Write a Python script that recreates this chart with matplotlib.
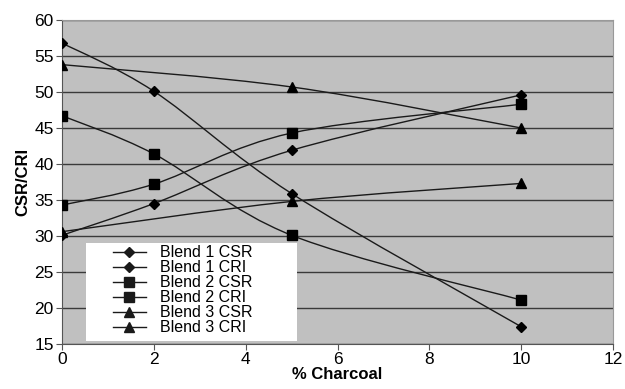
import matplotlib.pyplot as plt
from matplotlib.path import Path
from matplotlib.patches import PathPatch, Rectangle
from matplotlib.lines import Line2D

plt.rcParams['font.family'] = ['Liberation Sans', 'DejaVu Sans']

# data
x4 = [0, 2, 5, 10]
x3 = [0, 5, 10]
b1_csr = [56.8, 50.1, 35.9, 17.4]
b1_cri = [30.1, 34.5, 41.9, 49.6]
b2_csr = [46.7, 41.4, 30.1, 21.1]
b2_cri = [34.3, 37.2, 44.3, 48.3]
b3_csr = [53.8, 50.7, 45.0]
b3_cri = [30.6, 34.8, 37.3]

series = [
    ("Blend 1 CSR", x4, b1_csr, "D", 5.5),
    ("Blend 1 CRI", x4, b1_cri, "D", 5.5),
    ("Blend 2 CSR", x4, b2_csr, "s", 7.5),
    ("Blend 2 CRI", x4, b2_cri, "s", 7.5),
    ("Blend 3 CSR", x3, b3_csr, "^", 7),
    ("Blend 3 CRI", x3, b3_cri, "^", 7),
]


def smooth_path(xs, ys):
    # excel-style smoothed line: cubic bezier segments through the points
    pts = list(zip(xs, ys))
    verts = [pts[0]]
    codes = [Path.MOVETO]
    n = len(pts)
    for i in range(n - 1):
        p0 = pts[i - 1] if i > 0 else pts[i]
        p1 = pts[i]
        p2 = pts[i + 1]
        p3 = pts[i + 2] if i + 2 < n else pts[i + 1]
        c1 = (p1[0] + (p2[0] - p0[0]) / 6, p1[1] + (p2[1] - p0[1]) / 6)
        c2 = (p2[0] - (p3[0] - p1[0]) / 6, p2[1] - (p3[1] - p1[1]) / 6)
        verts += [c1, c2, p2]
        codes += [Path.CURVE4] * 3
    return Path(verts, codes)


fig = plt.figure(figsize=(6.25, 3.89), dpi=100)
ax = fig.add_axes([0.0992, 0.1157, 0.8816, 0.8329])
ax.set_facecolor('#c0c0c0')

handles = []
for name, xs, ys, mk, ms in series:
    ax.add_patch(PathPatch(smooth_path(xs, ys), facecolor='none',
                           edgecolor='#1a1a1a', lw=1.0, zorder=3))
    ax.plot(xs, ys, linestyle='none', marker=mk, markersize=ms,
            color='black', zorder=4)
    handles.append(Line2D([], [], color='#1a1a1a', lw=1.0, marker=mk,
                          markersize=ms, label=name))

ax.set_xlim(0, 12)
ax.set_ylim(15, 60)
ax.set_xticks(range(0, 13, 2))
ax.set_yticks(range(15, 61, 5))
ax.yaxis.grid(True, color='#3a3a3a', lw=1.0)
ax.set_axisbelow(True)
ax.tick_params(labelsize=12.5, length=4, color='#555555', direction='out',
               pad=2)

for s in ['top', 'right']:
    ax.spines[s].set_color('#999999')
for s in ['left', 'bottom']:
    ax.spines[s].set_color('#555555')

ax.set_xlabel('% Charcoal', fontsize=12, fontweight='bold', labelpad=0)
ax.set_ylabel('CSR/CRI', fontsize=12, fontweight='bold', labelpad=3)

# white legend box, wider than its contents like the original
ax.add_patch(Rectangle((0.044, 0.009), 0.383, 0.303, transform=ax.transAxes,
                       facecolor='white', edgecolor='none', zorder=4.5))
leg = ax.legend(handles=handles, loc='upper left',
                bbox_to_anchor=(0.092, 0.305), frameon=False,
                fontsize=11.5, borderpad=0, labelspacing=0.0,
                handlelength=2.1, handletextpad=0.85, borderaxespad=0)
leg.set_zorder(5)

fig.savefig('out.png', dpi=100)
